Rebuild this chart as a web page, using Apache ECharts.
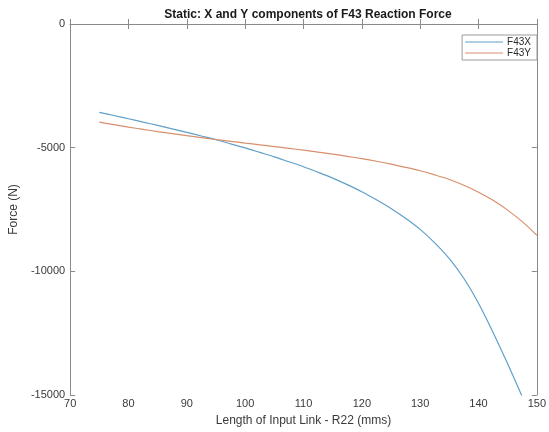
<!DOCTYPE html>
<html>
<head>
<meta charset="utf-8">
<script src="https://cdn.jsdelivr.net/npm/echarts@6/dist/echarts.min.js"></script>
<style>
  html, body { margin: 0; padding: 0; background: #fff; }
  #chart { width: 549px; height: 432px; }
</style>
</head>
<body>
<div id="chart"></div>
<script>
// Input link length R22 (mms) and reaction force components (N)
const lengthX = [75, 77.5, 80, 82.5, 85, 87.5, 90, 92.5, 95, 97.5, 100, 102.5, 105, 107.5, 110, 112.5, 115, 117.5, 120, 122.5, 125, 127.5, 130, 132.5, 135, 137.5, 140, 142.5, 145, 147.5];
const f43x = [-3570, -3700, -3830, -3965, -4100, -4240, -4380, -4530, -4680, -4845, -5010, -5190, -5370, -5570, -5770, -5995, -6230, -6495, -6780, -7105, -7455, -7855, -8305, -8850, -9490, -10290, -11290, -12470, -13740, -15070];

const lengthY = [75, 77.5, 80, 82.5, 85, 87.5, 90, 92.5, 95, 97.5, 100, 102.5, 105, 107.5, 110, 112.5, 115, 117.5, 120, 122.5, 125, 127.5, 130, 132.5, 135, 137.5, 140, 142.5, 145, 147.5, 150];
const f43y = [-3970, -4070, -4170, -4260, -4350, -4432, -4515, -4592, -4670, -4742, -4815, -4885, -4955, -5027, -5100, -5178, -5260, -5350, -5445, -5550, -5665, -5795, -5935, -6100, -6285, -6520, -6800, -7130, -7525, -7990, -8540];

const xTicks = { min: 70, max: 150, interval: 10 };
const yTicks = { min: -15000, max: 0, interval: 5000 };

const seriesNames = ['F43X', 'F43Y'];

const pair = (xs, ys) => xs.map((x, i) => [x, ys[i]]);

const FONT = '"Liberation Sans", Arial, Helvetica, sans-serif';
const AXIS_GRAY = '#8a8a8a';
const LABEL_COLOR = '#3a3a3a';

const chart = echarts.init(document.getElementById('chart'), null, { renderer: 'canvas' });

const boxAxis = (extra) => Object.assign({
  type: 'value',
  axisLine: { show: true, lineStyle: { color: AXIS_GRAY, width: 1 } },
  axisTick: { show: true, inside: true, length: 5, lineStyle: { color: AXIS_GRAY } },
  splitLine: { show: false },
}, extra);

chart.setOption({
  backgroundColor: '#ffffff',
  animation: false,
  title: {
    text: 'Static: X and Y components of F43 Reaction Force',
    left: 303,
    textAlign: 'center',
    top: 4,
    textStyle: { fontFamily: FONT, fontSize: 12, fontWeight: 'bold', color: '#1a1a1a' }
  },
  grid: { left: 64.5, right: 8, top: 24, bottom: 33, containLabel: false },
  legend: {
    data: seriesNames,
    orient: 'vertical',
    right: 12,
    top: 35,
    icon: 'rect',
    itemWidth: 38,
    itemHeight: 1,
    itemGap: 1,
    padding: [2, 6, 2, 3],
    backgroundColor: '#ffffff',
    borderColor: '#9a9a9a',
    borderWidth: 1,
    borderRadius: 0,
    textStyle: { fontFamily: FONT, fontSize: 10, color: '#2a2a2a', padding: [0, 0, 0, -1] }
  },
  xAxis: [
    boxAxis({
      position: 'bottom',
      min: xTicks.min, max: xTicks.max, interval: xTicks.interval,
      name: 'Length of Input Link - R22 (mms)',
      nameLocation: 'middle',
      nameGap: 20,
      nameTextStyle: { fontFamily: FONT, fontSize: 12, color: LABEL_COLOR },
      axisLabel: { fontFamily: FONT, fontSize: 11, color: LABEL_COLOR, margin: 3 }
    }),
    boxAxis({
      position: 'top',
      min: xTicks.min, max: xTicks.max, interval: xTicks.interval,
      axisLabel: { show: false }
    })
  ],
  yAxis: [
    boxAxis({
      position: 'left',
      min: yTicks.min, max: yTicks.max, interval: yTicks.interval,
      name: 'Force (N)',
      nameLocation: 'middle',
      nameGap: 42,
      nameRotate: 90,
      nameTextStyle: { fontFamily: FONT, fontSize: 12, color: LABEL_COLOR },
      axisLabel: {
        fontFamily: FONT, fontSize: 11, color: LABEL_COLOR, margin: 5,
        formatter: (v) => String(v)
      }
    }),
    boxAxis({
      position: 'right',
      min: yTicks.min, max: yTicks.max, interval: yTicks.interval,
      axisLabel: { show: false }
    })
  ],
  series: [
    {
      name: seriesNames[0],
      type: 'line',
      data: pair(lengthX, f43x),
      showSymbol: false,
      smooth: 0.3,
      clip: true,
      lineStyle: { color: '#5f9fc8', width: 1.2 },
      itemStyle: { color: '#5f9fc8' }
    },
    {
      name: seriesNames[1],
      type: 'line',
      data: pair(lengthY, f43y),
      showSymbol: false,
      smooth: 0.3,
      clip: true,
      lineStyle: { color: '#d98f6c', width: 1.2 },
      itemStyle: { color: '#d98f6c' }
    }
  ]
});
</script>
</body>
</html>
